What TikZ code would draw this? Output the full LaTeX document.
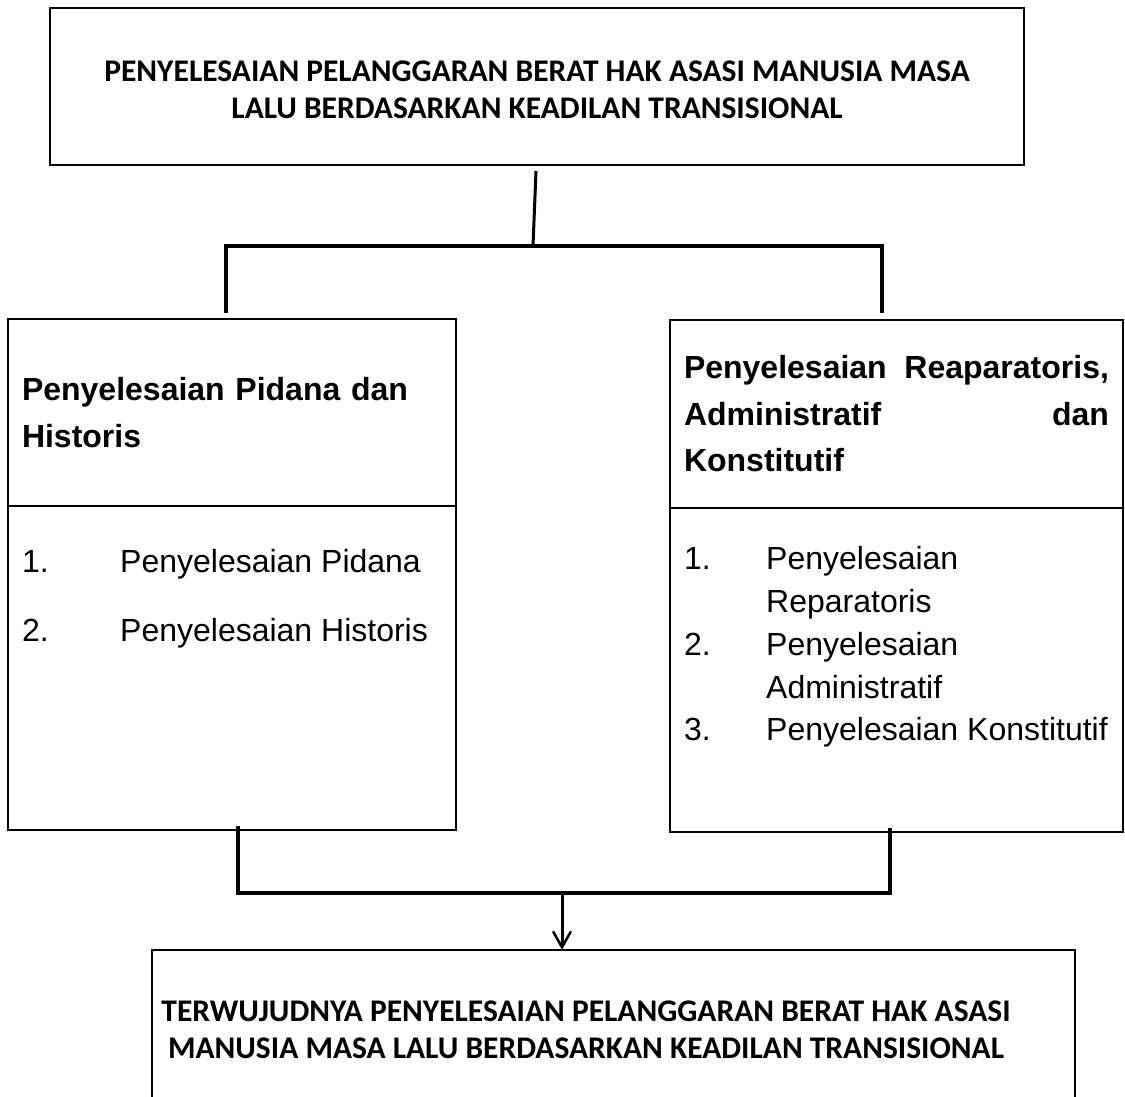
\documentclass[tikz,border=0pt]{standalone}
\usepackage{fontspec}
\setmainfont{Liberation Sans}
\newfontfamily\calfont{Carlito}
\usetikzlibrary{arrows.meta}
\begin{document}
\begin{tikzpicture}[x=1pt,y=-1pt,
  box/.style={draw, line width=2pt, inner sep=0pt, rectangle},
  title/.style={font=\calfont\bfseries\fontsize{31.5}{37}\selectfont, align=center},
  head/.style={font=\bfseries\fontsize{32}{46.5}\selectfont, align=left},
  item/.style={font=\fontsize{32}{43}\selectfont, anchor=base west, inner sep=0pt},
  conn/.style={line width=3pt},
  bar/.style={line width=4pt}]
\useasboundingbox (0,0) rectangle (1125,1097);
% top box
\node[box, minimum width=974pt, minimum height=157pt] (top) at (537,86.5) {};
\node[title, inner sep=0pt] (toptxt) at (537,90)
  {PENYELESAIAN PELANGGARAN BERAT HAK ASASI MANUSIA MASA\\LALU BERDASARKAN KEADILAN TRANSISIONAL};
% left box
\node[box, minimum width=448pt, minimum height=187pt, head, text width=420pt] (lhead) at (232,412.5)
  {Penyelesaian Pidana dan\\Historis};
\node[box, minimum width=448pt, minimum height=324pt] (llist) at (232,668) {};
% right box
\node[box, minimum width=453pt, minimum height=188pt, head, text width=425pt] (rhead) at (896.5,414)
  {Penyelesaian\hfill Reaparatoris,\\Administratif\hfill dan\\Konstitutif};
\node[box, minimum width=453pt, minimum height=324pt] (rlist) at (896.5,670) {};
% list items
\node[item] (l1) at (22,572) {\makebox[98pt][l]{1.}Penyelesaian Pidana};
\node[item] (l2) at (22,641) {\makebox[98pt][l]{2.}Penyelesaian Historis};
\node[item] (r1) at (684,569) {\makebox[82pt][l]{1.}Penyelesaian};
\node[item] (r1b) at (766,612) {Reparatoris};
\node[item] (r2) at (684,655) {\makebox[82pt][l]{2.}Penyelesaian};
\node[item] (r2b) at (766,698) {Administratif};
\node[item] (r3) at (684,740) {\makebox[82pt][l]{3.}Penyelesaian Konstitutif};
% bottom box (open at bottom)
\node[minimum width=923pt, minimum height=200pt, inner sep=0pt] (bot) at (613.5,1050) {};
\node[title, inner sep=0pt] (bottxt) at (586,1030)
  {TERWUJUDNYA PENYELESAIAN PELANGGARAN BERAT HAK ASASI\\MANUSIA MASA LALU BERDASARKAN KEADILAN TRANSISIONAL};
\draw[line width=2pt] (bot.south west) -- (bot.north west) -- (bot.north east) -- (bot.south east);
% upper connector
\coordinate (j1) at (533,246);
\coordinate (dl) at (226,313);
\coordinate (dr) at (882,313);
\draw[conn] ([xshift=-1pt,yshift=-5pt]top.south) -- (j1);
\draw[bar] (dl) |- (j1) -| (dr);
% lower connector
\coordinate (ul) at (238,826);
\coordinate (ur) at (890,828);
\coordinate (j2) at (562,893);
\draw[bar] (ul) |- (j2) -| (ur);
\draw[conn, -{Straight Barb[length=16pt,width=18pt,line width=2.5pt]}] (j2) -- (bot.north -| j2);
\end{tikzpicture}
\end{document}
